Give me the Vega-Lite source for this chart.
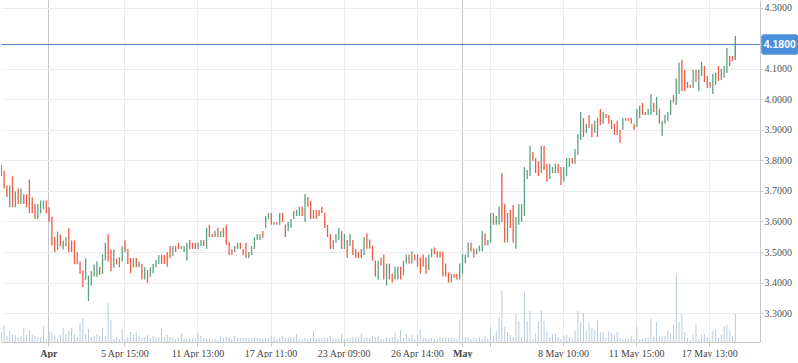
{
"$schema":"https://vega.github.io/schema/vega-lite/v6.json",
"width":759,"height":342,"padding":0,"autosize":{"type":"pad"},"background":"white",
"config":{"view":{"stroke":null},"font":"Liberation Serif"},
"datasets":{"bars":[
{"i":0,"o":3.786,"c":3.749,"v":100},{"i":1,"o":3.767,"c":3.709,"v":170},{"i":2,"o":3.718,"c":3.680,"v":60},{"i":3,"o":3.647,"c":3.718,"v":110},{"i":4,"o":3.748,"c":3.647,"v":80},{"i":5,"o":3.647,"c":3.698,"v":70},{"i":6,"o":3.708,"c":3.657,"v":50},{"i":7,"o":3.657,"c":3.708,"v":60},{"i":8,"o":3.689,"c":3.657,"v":140},{"i":9,"o":3.689,"c":3.647,"v":70},
{"i":10,"o":3.738,"c":3.627,"v":120},{"i":11,"o":3.679,"c":3.627,"v":70},{"i":12,"o":3.658,"c":3.608,"v":60},{"i":13,"o":3.608,"c":3.657,"v":50},{"i":14,"o":3.627,"c":3.669,"v":50},{"i":15,"o":3.641,"c":3.669,"v":160},{"i":16,"o":3.669,"c":3.627,"v":30},{"i":17,"o":3.647,"c":3.598,"v":110},{"i":18,"o":3.616,"c":3.521,"v":100},{"i":19,"o":3.549,"c":3.499,"v":70},
{"i":20,"o":3.508,"c":3.567,"v":30},{"i":21,"o":3.557,"c":3.519,"v":70},{"i":22,"o":3.508,"c":3.538,"v":140},{"i":23,"o":3.519,"c":3.549,"v":80},{"i":24,"o":3.578,"c":3.499,"v":110},{"i":25,"o":3.538,"c":3.499,"v":140},{"i":26,"o":3.538,"c":3.460,"v":80},{"i":27,"o":3.499,"c":3.460,"v":50},{"i":28,"o":3.469,"c":3.428,"v":190},{"i":29,"o":3.439,"c":3.385,"v":240},
{"i":30,"o":3.409,"c":3.479,"v":80},{"i":31,"o":3.339,"c":3.423,"v":130},{"i":32,"o":3.389,"c":3.438,"v":50},{"i":33,"o":3.419,"c":3.459,"v":60},{"i":34,"o":3.419,"c":3.469,"v":80},{"i":35,"o":3.452,"c":3.425,"v":60},{"i":36,"o":3.428,"c":3.492,"v":140},{"i":37,"o":3.472,"c":3.530,"v":60},{"i":38,"o":3.558,"c":3.469,"v":390},{"i":39,"o":3.508,"c":3.437,"v":220},
{"i":40,"o":3.448,"c":3.508,"v":30},{"i":41,"o":3.479,"c":3.459,"v":50},{"i":42,"o":3.450,"c":3.483,"v":30},{"i":43,"o":3.469,"c":3.519,"v":130},{"i":44,"o":3.538,"c":3.499,"v":30},{"i":45,"o":3.510,"c":3.461,"v":50},{"i":46,"o":3.480,"c":3.430,"v":100},{"i":47,"o":3.450,"c":3.480,"v":70},{"i":48,"o":3.480,"c":3.450,"v":100},{"i":49,"o":3.450,"c":3.468,"v":60},
{"i":50,"o":3.461,"c":3.410,"v":40},{"i":51,"o":3.410,"c":3.450,"v":50},{"i":52,"o":3.441,"c":3.399,"v":70},{"i":53,"o":3.419,"c":3.450,"v":40},{"i":54,"o":3.430,"c":3.461,"v":60},{"i":55,"o":3.450,"c":3.474,"v":50},{"i":56,"o":3.461,"c":3.490,"v":50},{"i":57,"o":3.490,"c":3.461,"v":140},{"i":58,"o":3.490,"c":3.461,"v":50},{"i":59,"o":3.500,"c":3.452,"v":70},
{"i":60,"o":3.520,"c":3.480,"v":50},{"i":61,"o":3.487,"c":3.520,"v":40},{"i":62,"o":3.520,"c":3.500,"v":30},{"i":63,"o":3.530,"c":3.510,"v":40},{"i":64,"o":3.510,"c":3.520,"v":90},{"i":65,"o":3.500,"c":3.520,"v":30},{"i":66,"o":3.471,"c":3.530,"v":30},{"i":67,"o":3.539,"c":3.510,"v":40},{"i":68,"o":3.530,"c":3.510,"v":40},{"i":69,"o":3.530,"c":3.510,"v":40},
{"i":70,"o":3.510,"c":3.530,"v":90},{"i":71,"o":3.520,"c":3.539,"v":60},{"i":72,"o":3.539,"c":3.520,"v":40},{"i":73,"o":3.510,"c":3.579,"v":30},{"i":74,"o":3.589,"c":3.549,"v":30},{"i":75,"o":3.559,"c":3.549,"v":20},{"i":76,"o":3.549,"c":3.569,"v":30},{"i":77,"o":3.579,"c":3.549,"v":20},{"i":78,"o":3.549,"c":3.569,"v":60},{"i":79,"o":3.579,"c":3.549,"v":40},
{"i":80,"o":3.589,"c":3.523,"v":50},{"i":81,"o":3.533,"c":3.490,"v":50},{"i":82,"o":3.510,"c":3.490,"v":30},{"i":83,"o":3.500,"c":3.520,"v":60},{"i":84,"o":3.510,"c":3.530,"v":40},{"i":85,"o":3.530,"c":3.510,"v":40},{"i":86,"o":3.510,"c":3.490,"v":40},{"i":87,"o":3.530,"c":3.480,"v":40},{"i":88,"o":3.480,"c":3.500,"v":40},{"i":89,"o":3.490,"c":3.520,"v":40},
{"i":90,"o":3.510,"c":3.549,"v":50},{"i":91,"o":3.539,"c":3.559,"v":40},{"i":92,"o":3.539,"c":3.559,"v":40},{"i":93,"o":3.569,"c":3.547,"v":30},{"i":94,"o":3.579,"c":3.618,"v":40},{"i":95,"o":3.608,"c":3.628,"v":40},{"i":96,"o":3.628,"c":3.589,"v":60},{"i":97,"o":3.589,"c":3.598,"v":50},{"i":98,"o":3.598,"c":3.589,"v":30},{"i":99,"o":3.589,"c":3.628,"v":40},
{"i":100,"o":3.628,"c":3.598,"v":60},{"i":101,"o":3.589,"c":3.549,"v":40},{"i":102,"o":3.569,"c":3.598,"v":50},{"i":103,"o":3.579,"c":3.608,"v":50},{"i":104,"o":3.608,"c":3.634,"v":50},{"i":105,"o":3.618,"c":3.638,"v":80},{"i":106,"o":3.618,"c":3.648,"v":30},{"i":107,"o":3.648,"c":3.618,"v":30},{"i":108,"o":3.598,"c":3.690,"v":40},{"i":109,"o":3.680,"c":3.648,"v":30},
{"i":110,"o":3.667,"c":3.608,"v":40},{"i":111,"o":3.608,"c":3.638,"v":110},{"i":112,"o":3.638,"c":3.608,"v":40},{"i":113,"o":3.638,"c":3.618,"v":40},{"i":114,"o":3.648,"c":3.628,"v":40},{"i":115,"o":3.628,"c":3.579,"v":50},{"i":116,"o":3.589,"c":3.549,"v":40},{"i":117,"o":3.559,"c":3.510,"v":60},{"i":118,"o":3.510,"c":3.539,"v":30},{"i":119,"o":3.530,"c":3.559,"v":40},
{"i":120,"o":3.539,"c":3.579,"v":30},{"i":121,"o":3.569,"c":3.510,"v":80},{"i":122,"o":3.510,"c":3.559,"v":30},{"i":123,"o":3.539,"c":3.480,"v":40},{"i":124,"o":3.520,"c":3.559,"v":40},{"i":125,"o":3.539,"c":3.490,"v":50},{"i":126,"o":3.510,"c":3.480,"v":50},{"i":127,"o":3.500,"c":3.480,"v":50},{"i":128,"o":3.510,"c":3.480,"v":90},{"i":129,"o":3.490,"c":3.549,"v":40},
{"i":130,"o":3.561,"c":3.511,"v":50},{"i":131,"o":3.541,"c":3.511,"v":40},{"i":132,"o":3.521,"c":3.472,"v":60},{"i":133,"o":3.472,"c":3.420,"v":50},{"i":134,"o":3.410,"c":3.472,"v":60},{"i":135,"o":3.482,"c":3.456,"v":30},{"i":136,"o":3.492,"c":3.410,"v":30},{"i":137,"o":3.390,"c":3.462,"v":50},{"i":138,"o":3.462,"c":3.410,"v":40},{"i":139,"o":3.429,"c":3.400,"v":50},
{"i":140,"o":3.410,"c":3.452,"v":100},{"i":141,"o":3.410,"c":3.452,"v":30},{"i":142,"o":3.452,"c":3.410,"v":120},{"i":143,"o":3.423,"c":3.472,"v":40},{"i":144,"o":3.462,"c":3.492,"v":80},{"i":145,"o":3.492,"c":3.462,"v":40},{"i":146,"o":3.462,"c":3.502,"v":70},{"i":147,"o":3.492,"c":3.472,"v":30},{"i":148,"o":3.492,"c":3.452,"v":80},{"i":149,"o":3.482,"c":3.429,"v":130},
{"i":150,"o":3.492,"c":3.452,"v":40},{"i":151,"o":3.482,"c":3.429,"v":40},{"i":152,"o":3.441,"c":3.492,"v":30},{"i":153,"o":3.482,"c":3.511,"v":40},{"i":154,"o":3.515,"c":3.492,"v":30},{"i":155,"o":3.502,"c":3.482,"v":30},{"i":156,"o":3.502,"c":3.482,"v":50},{"i":157,"o":3.502,"c":3.420,"v":40},{"i":158,"o":3.462,"c":3.420,"v":50},{"i":159,"o":3.433,"c":3.400,"v":40},
{"i":160,"o":3.400,"c":3.429,"v":50},{"i":161,"o":3.429,"c":3.416,"v":40},{"i":162,"o":3.429,"c":3.410,"v":30},{"i":163,"o":3.410,"c":3.462,"v":220},{"i":164,"o":3.429,"c":3.492,"v":30},{"i":165,"o":3.462,"c":3.492,"v":50},{"i":166,"o":3.482,"c":3.531,"v":50},{"i":167,"o":3.531,"c":3.502,"v":30},{"i":168,"o":3.511,"c":3.482,"v":50},{"i":169,"o":3.492,"c":3.511,"v":40},
{"i":170,"o":3.502,"c":3.521,"v":50},{"i":171,"o":3.502,"c":3.570,"v":30},{"i":172,"o":3.561,"c":3.521,"v":60},{"i":173,"o":3.521,"c":3.539,"v":30},{"i":174,"o":3.531,"c":3.628,"v":150},{"i":175,"o":3.628,"c":3.589,"v":60},{"i":176,"o":3.589,"c":3.618,"v":110},{"i":177,"o":3.589,"c":3.648,"v":250},{"i":178,"o":3.759,"c":3.598,"v":520},{"i":179,"o":3.657,"c":3.531,"v":150},
{"i":180,"o":3.531,"c":3.628,"v":100},{"i":181,"o":3.638,"c":3.579,"v":70},{"i":182,"o":3.654,"c":3.531,"v":50},{"i":183,"o":3.511,"c":3.615,"v":280},{"i":184,"o":3.589,"c":3.657,"v":210},{"i":185,"o":3.598,"c":3.657,"v":50},{"i":186,"o":3.618,"c":3.779,"v":500},{"i":187,"o":3.739,"c":3.769,"v":210},{"i":188,"o":3.749,"c":3.848,"v":310},{"i":189,"o":3.828,"c":3.798,"v":30},
{"i":190,"o":3.808,"c":3.759,"v":90},{"i":191,"o":3.798,"c":3.749,"v":200},{"i":192,"o":3.759,"c":3.848,"v":320},{"i":193,"o":3.848,"c":3.769,"v":210},{"i":194,"o":3.789,"c":3.730,"v":100},{"i":195,"o":3.739,"c":3.789,"v":50},{"i":196,"o":3.759,"c":3.779,"v":70},{"i":197,"o":3.759,"c":3.789,"v":80},{"i":198,"o":3.789,"c":3.759,"v":50},{"i":199,"o":3.779,"c":3.720,"v":30},
{"i":200,"o":3.730,"c":3.779,"v":60},{"i":201,"o":3.749,"c":3.808,"v":70},{"i":202,"o":3.779,"c":3.808,"v":50},{"i":203,"o":3.808,"c":3.789,"v":30},{"i":204,"o":3.789,"c":3.838,"v":110},{"i":205,"o":3.818,"c":3.887,"v":310},{"i":206,"o":3.867,"c":3.959,"v":200},{"i":207,"o":3.939,"c":3.877,"v":290},{"i":208,"o":3.890,"c":3.920,"v":110},{"i":209,"o":3.949,"c":3.907,"v":190},
{"i":210,"o":3.920,"c":3.877,"v":140},{"i":211,"o":3.890,"c":3.930,"v":120},{"i":212,"o":3.939,"c":3.877,"v":220},{"i":213,"o":3.969,"c":3.916,"v":100},{"i":214,"o":3.920,"c":3.959,"v":100},{"i":215,"o":3.952,"c":3.939,"v":40},{"i":216,"o":3.949,"c":3.920,"v":110},{"i":217,"o":3.933,"c":3.903,"v":90},{"i":218,"o":3.920,"c":3.884,"v":70},{"i":219,"o":3.930,"c":3.884,"v":100},
{"i":220,"o":3.900,"c":3.857,"v":40},{"i":221,"o":3.900,"c":3.939,"v":30},{"i":222,"o":3.939,"c":3.930,"v":30},{"i":223,"o":3.939,"c":3.930,"v":30},{"i":224,"o":3.939,"c":3.920,"v":60},{"i":225,"o":3.920,"c":3.900,"v":30},{"i":226,"o":3.910,"c":3.969,"v":150},{"i":227,"o":3.939,"c":3.979,"v":30},{"i":228,"o":3.989,"c":3.949,"v":30},{"i":229,"o":3.959,"c":3.949,"v":40},
{"i":230,"o":3.949,"c":3.969,"v":50},{"i":231,"o":3.949,"c":4.018,"v":230},{"i":232,"o":3.989,"c":3.959,"v":60},{"i":233,"o":3.949,"c":4.008,"v":200},{"i":234,"o":3.969,"c":3.920,"v":60},{"i":235,"o":3.880,"c":3.930,"v":60},{"i":236,"o":3.920,"c":3.949,"v":60},{"i":237,"o":3.930,"c":3.959,"v":120},{"i":238,"o":3.949,"c":3.998,"v":80},{"i":239,"o":4.014,"c":3.989,"v":170},
{"i":240,"o":3.982,"c":4.069,"v":680},{"i":241,"o":4.018,"c":4.120,"v":200},{"i":242,"o":4.130,"c":4.028,"v":280},{"i":243,"o":4.097,"c":4.028,"v":100},{"i":244,"o":4.057,"c":4.038,"v":40},{"i":245,"o":4.048,"c":4.038,"v":20},{"i":246,"o":4.038,"c":4.097,"v":70},{"i":247,"o":4.097,"c":4.057,"v":180},{"i":248,"o":4.028,"c":4.097,"v":30},{"i":249,"o":4.077,"c":4.123,"v":70},
{"i":250,"o":4.110,"c":4.057,"v":80},{"i":251,"o":4.077,"c":4.038,"v":50},{"i":252,"o":4.057,"c":4.038,"v":20},{"i":253,"o":4.018,"c":4.084,"v":110},{"i":254,"o":4.048,"c":4.087,"v":120},{"i":255,"o":4.110,"c":4.061,"v":40},{"i":256,"o":4.064,"c":4.100,"v":70},{"i":257,"o":4.071,"c":4.110,"v":160},{"i":258,"o":4.087,"c":4.169,"v":170},{"i":259,"o":4.143,"c":4.110,"v":120},
{"i":260,"o":4.143,"c":4.126,"v":60},{"i":261,"o":4.130,"c":4.180,"h":4.208,"l":4.130,"v":280}
],
"last":[{"p":4.18}]},
"layer":[
 {"data":{"name":"bars"},"mark":{"type":"rule","color":"#b7cae0","strokeWidth":1,"clip":true},
  "encoding":{
   "x":{"field":"i","type":"quantitative","scale":{"domain":[-0.0996,269.77],"nice":false,"zero":false}},
   "y":{"field":"v","type":"quantitative","scale":{"domain":[0,3420],"nice":false},"axis":null},"y2":{"datum":0}}},
 {"data":{"name":"bars"},"mark":{"type":"rule","strokeWidth":1.3,"clip":true},
  "encoding":{
   "x":{"field":"i","type":"quantitative","scale":{"domain":[-0.0996,269.77],"nice":false,"zero":false},
    "axis":{"title":null,"values":[16.72,43.74,69.74,95.74,121.74,147.74,163.92,173.74,199.74,225.74,251.74],
     "labelExpr":"datum.value < 20 ? 'Apr' : datum.value < 50 ? '5 Apr 15:00' : datum.value < 80 ? '11 Apr 13:00' : datum.value < 100 ? '17 Apr 11:00' : datum.value < 130 ? '23 Apr 09:00' : datum.value < 150 ? '26 Apr 14:00' : datum.value < 170 ? 'May' : datum.value < 180 ? '' : datum.value < 210 ? '8 May 10:00' : datum.value < 230 ? '11 May 15:00' : '17 May 13:00'",
     "grid":true,
     "gridColor":{"condition":{"test":"datum.value < 20 || (datum.value > 160 && datum.value < 170)","value":"#c6c6c6"},"value":"#ececec"},
     "labelFontWeight":{"condition":{"test":"datum.value < 20 || (datum.value > 160 && datum.value < 170)","value":"bold"},"value":"normal"},
     "domainColor":"#c8c8c8","tickColor":"#c8c8c8","tickSize":4,"labelPadding":2,"labelColor":"#444444","labelFontSize":10,"labelFont":"Liberation Serif","labelOverlap":false,"labelFlush":false}},
   "y":{"field":"o","type":"quantitative","scale":{"domain":[3.205,4.326],"nice":false,"zero":false},
    "axis":{"orient":"right","title":null,"grid":true,"values":[3.3,3.4,3.5,3.6,3.7,3.8,3.9,4.0,4.1,4.3],"format":".4f","labelOverlap":false,"gridColor":"#ececec","domainColor":"#c8c8c8","tickColor":"#c8c8c8","tickSize":3,"labelPadding":1,"labelColor":"#555555","labelFontSize":10,"labelFont":"Liberation Serif"}},
   "y2":{"field":"c"},
   "color":{"condition":{"test":"datum.c >= datum.o","value":"#5ba17f"},"value":"#ee5a43"}}},
 {"data":{"name":"bars"},"mark":{"type":"rule","strokeWidth":1.3,"clip":true},
  "encoding":{
   "x":{"field":"i","type":"quantitative","scale":{"domain":[-0.0996,269.77],"nice":false,"zero":false}},
   "y":{"field":"h","type":"quantitative","scale":{"domain":[3.205,4.326],"nice":false,"zero":false},"axis":null},"y2":{"field":"l"},
   "color":{"condition":{"test":"datum.c >= datum.o","value":"#5ba17f"},"value":"#ee5a43"}}},
 {"data":{"name":"last"},"mark":{"type":"rule","color":"#4f7fbd","strokeWidth":1},
  "encoding":{"y":{"field":"p","type":"quantitative","scale":{"domain":[3.205,4.326],"nice":false,"zero":false},"axis":null}}},
 {"data":{"name":"last"},"mark":{"type":"rect","color":"#4a8fd9","cornerRadius":3},
  "encoding":{"y":{"datum":4.2135,"type":"quantitative","scale":{"domain":[3.205,4.326],"nice":false,"zero":false},"axis":null},"y2":{"datum":4.1465},
   "x":{"datum":270.2,"type":"quantitative","scale":{"domain":[-0.0996,269.77],"nice":false,"zero":false}},"x2":{"datum":283.4}}},
 {"data":{"name":"last"},"mark":{"type":"text","color":"white","fontWeight":"bold","fontSize":10.5,"font":"Liberation Sans","align":"center","baseline":"middle"},
  "encoding":{"y":{"field":"p","type":"quantitative","scale":{"domain":[3.205,4.326],"nice":false,"zero":false},"axis":null},
   "x":{"datum":276.8,"type":"quantitative","scale":{"domain":[-0.0996,269.77],"nice":false,"zero":false}},
   "text":{"field":"p","format":".4f"}}}
],
"resolve":{"scale":{"y":"independent"},"axis":{"y":"independent"}}
}
